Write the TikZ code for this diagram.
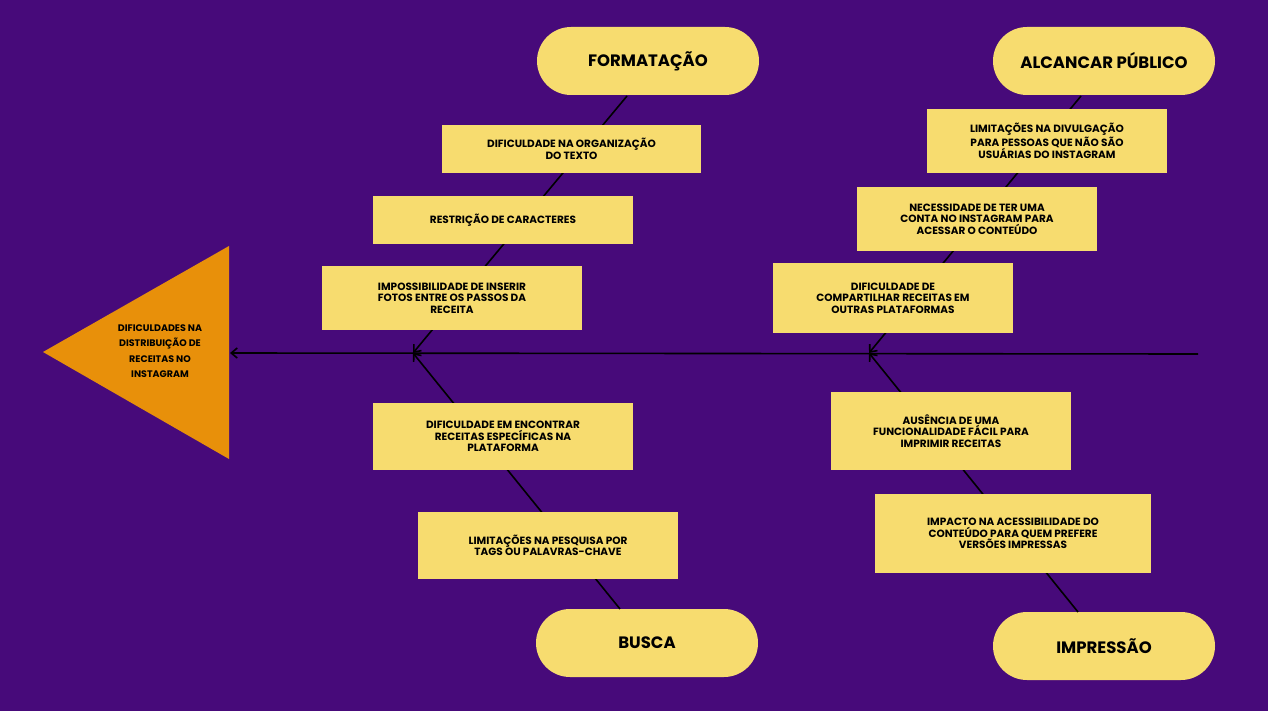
\documentclass[tikz,border=0pt]{standalone}
\usetikzlibrary{arrows.meta}
\usepackage{fontspec}
\setmainfont{Poppins}[BoldFont={* Bold}]
\definecolor{bg}{HTML}{470A7A}
\definecolor{bx}{HTML}{F7DC6F}
\definecolor{hd}{HTML}{E8900A}
\begin{document}
\begin{tikzpicture}[x=1pt,y=-1pt,
  box/.style={fill=bx,draw=none,align=center,font=\bfseries\fontsize{10.5}{11.5}\selectfont,inner sep=0},
  pill/.style={fill=bx,rounded corners=34pt,minimum width=222pt,minimum height=68pt,font=\bfseries\fontsize{16.5}{18}\selectfont},
  bone/.style={line width=1.6pt,-{Straight Barb[length=6pt,width=10pt]}}]
\fill[bg] (0,0) rectangle (1268,711);
\useasboundingbox (0,0) rectangle (1268,711);
\coordinate (tail) at (1198,354);
\coordinate (hp) at (230,353);
\coordinate (j1) at (413,353);
\coordinate (j2) at (869,353);
\node[pill] (fo) at (648,61) {FORMATAÇÃO};
\node[pill] (bu) at (647,643) {BUSCA};
\node[pill] (al) at (1104,61) {ALCANCAR PÚBLICO};
\node[pill] (im) at (1104,646) {IMPRESSÃO};
\draw[bone] (tail) -- (hp);
\draw[bone] (627,96) -- (j1);
\draw[bone] (620,609) -- (j1);
\draw[bone] (1081,96) -- (j2);
\draw[bone] (1078,612) -- (j2);
\fill[hd] (43,352) -- (229,246) -- (229,459) -- cycle;
\node[align=center,font=\bfseries\fontsize{9.5}{15.5}\selectfont] (head) at (160,351) {DIFICULDADES NA\\DISTRIBUIÇÃO DE\\RECEITAS NO\\INSTAGRAM};
\def\bxn#1#2#3#4#5#6{\fill[bx] (#2,#3) rectangle (#4,#5); \node[box] (#1) at ({(#2+#4)/2},{(#3+#5)/2}) {#6};}
\bxn{f1}{442}{125}{701}{173}{DIFICULDADE NA ORGANIZAÇÃO\\DO TEXTO}
\bxn{f2}{373}{196}{633}{244}{RESTRIÇÃO DE CARACTERES}
\bxn{f3}{322}{266}{582}{330}{IMPOSSIBILIDADE DE INSERIR\\FOTOS ENTRE OS PASSOS DA\\RECEITA}
\bxn{b1}{373}{403}{633}{470}{DIFICULDADE EM ENCONTRAR\\RECEITAS ESPECÍFICAS NA\\PLATAFORMA}
\bxn{b2}{418}{512}{678}{579}{LIMITAÇÕES NA PESQUISA POR\\TAGS OU PALAVRAS-CHAVE}
\bxn{a1}{927}{109}{1167}{173}{LIMITAÇÕES NA DIVULGAÇÃO\\PARA PESSOAS QUE NÃO SÃO\\USUÁRIAS DO INSTAGRAM}
\bxn{a2}{857}{187}{1097}{251}{NECESSIDADE DE TER UMA\\CONTA NO INSTAGRAM PARA\\ACESSAR O CONTEÚDO}
\bxn{a3}{773}{263}{1013}{333}{DIFICULDADE DE\\COMPARTILHAR RECEITAS EM\\OUTRAS PLATAFORMAS}
\bxn{i1}{831}{392}{1071}{470}{AUSÊNCIA DE UMA\\FUNCIONALIDADE FÁCIL PARA\\IMPRIMIR RECEITAS}
\bxn{i2}{875}{494}{1151}{573}{IMPACTO NA ACESSIBILIDADE DO\\CONTEÚDO PARA QUEM PREFERE\\VERSÕES IMPRESSAS}
\end{tikzpicture}
\end{document}
